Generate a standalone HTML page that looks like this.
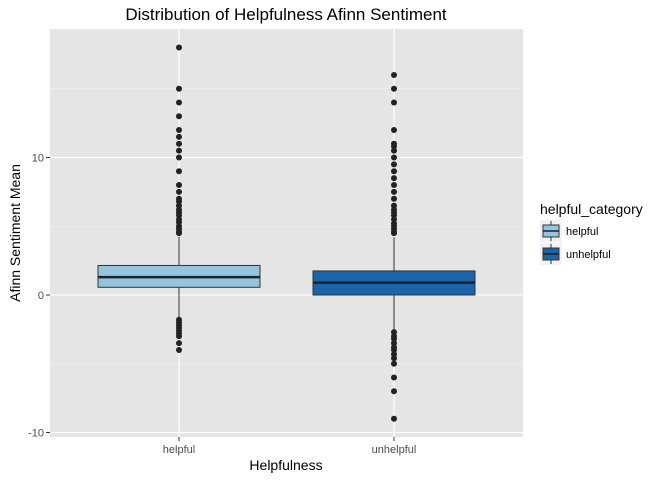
<!DOCTYPE html>
<html><head><meta charset="utf-8"><style>
body{margin:0;background:#fff;font-family:"Liberation Sans",sans-serif}
svg text{font-family:"Liberation Sans",sans-serif}
</style></head><body>
<svg id="c" width="672" height="480" xmlns="http://www.w3.org/2000/svg"></svg>
<script>
const categories=["helpful","unhelpful"];
const fills=["#95c4de","#1c64a9"];
const q1=[0.56,0.0];
const medians=[1.3,0.9];
const q3=[2.15,1.75];
const whiskerLow=[-1.7,-2.6];
const whiskerHigh=[4.25,4.2];
const outliersHelpful=[18,15,14,13,12,11.5,11,10.5,10,9,8,7.5,7,6.8,6.5,6.2,6,5.8,5.5,5.3,5,4.8,4.6,4.5,-1.8,-2,-2.2,-2.4,-2.6,-2.8,-3,-3.5,-4];
const outliersUnhelpful=[16,15,14,12,11,10.8,10.5,10,9.5,9,8.5,8,7.5,7,6.5,6.2,6,5.8,5.5,5.2,5,4.8,4.6,4.5,-2.7,-3,-3.2,-3.5,-3.8,-4,-4.3,-4.6,-5,-6,-7,-9];
const outliers=[outliersHelpful,outliersUnhelpful];
const yTicks=[-10,0,10];

const L=50,R=523,T=29,B=437;
const y=v=>295-v*13.75;
const x=i=>179+i*215;
const svg=document.getElementById('c');
const NS='http://www.w3.org/2000/svg';
function mk(tag,attrs,parent){const e=document.createElementNS(NS,tag);for(const k in attrs)e.setAttribute(k,attrs[k]);(parent||svg).appendChild(e);return e;}
function txt(s,attrs){const e=mk('text',attrs);e.textContent=s;return e;}

const bg=mk('rect',{x:L,y:T,width:R-L,height:B-T,fill:'#e5e5e5'});


[-5,5,15].forEach(v=>{mk('line',{x1:L,x2:R,y1:y(v),y2:y(v),stroke:'#f2f2f2','stroke-width':0.6});});
yTicks.forEach(v=>{
  mk('line',{x1:L,x2:R,y1:y(v),y2:y(v),stroke:'#fff','stroke-width':1.2});
  mk('line',{x1:L-4,x2:L,y1:y(v),y2:y(v),stroke:'#333','stroke-width':1});
  const t=txt(String(v),{x:L-6,y:y(v)+4,'text-anchor':'end','font-size':11,fill:'#4d4d4d'});
  
  
});
categories.forEach((c,i)=>{
  mk('line',{x1:x(i),x2:x(i),y1:T,y2:B,stroke:'#fff','stroke-width':1.2});
  mk('line',{x1:x(i),x2:x(i),y1:B,y2:B+4,stroke:'#333','stroke-width':1});
  const t=txt(c,{x:x(i),y:B+16,'text-anchor':'middle','font-size':11,fill:'#4d4d4d'});
  
  
});
categories.forEach((c,i)=>{
  const g=mk('g',{});
  
  
  const cx=x(i),hw=81;
  mk('line',{x1:cx,x2:cx,y1:y(whiskerHigh[i]),y2:y(q3[i]),stroke:'#333','stroke-width':1},g);
  mk('line',{x1:cx,x2:cx,y1:y(q1[i]),y2:y(whiskerLow[i]),stroke:'#333','stroke-width':1},g);
  mk('rect',{x:cx-hw,y:y(q3[i]),width:2*hw,height:y(q1[i])-y(q3[i]),fill:fills[i],stroke:'#333','stroke-width':1},g);
  mk('line',{x1:cx-hw,x2:cx+hw,y1:y(medians[i]),y2:y(medians[i]),stroke:'#222','stroke-width':2.5},g);
  outliers[i].forEach(v=>{
    const p=mk('circle',{cx:cx,cy:y(v),r:3,fill:'#222'},g);
    
    
  });
});
let t;
t=txt('Distribution of Helpfulness Afinn Sentiment',{x:286,y:20,'text-anchor':'middle','font-size':17,fill:'#000'});

t=txt('Helpfulness',{x:286,y:470,'text-anchor':'middle','font-size':14,fill:'#000'});

t=txt('Afinn Sentiment Mean',{x:0,y:0,'text-anchor':'middle','font-size':14,fill:'#000',transform:'translate(20,233) rotate(-90)'});

t=txt('helpful_category',{x:540,y:214,'font-size':14,fill:'#000'});

categories.forEach((c,i)=>{
  const g=mk('g',{});
  
  
  const ky=220+i*23;
  mk('rect',{x:540,y:ky,width:22,height:22,fill:'#f2f2f2'},g);
  mk('line',{x1:551,x2:551,y1:ky+1,y2:ky+21,stroke:'#333','stroke-width':1},g);
  mk('rect',{x:543,y:ky+5,width:16,height:12,fill:fills[i],stroke:'#333','stroke-width':1},g);
  mk('line',{x1:543,x2:559,y1:ky+11,y2:ky+11,stroke:'#222','stroke-width':1.5},g);
  const lt=txt(c,{x:566,y:ky+15,'font-size':11,fill:'#000'},g);
});
</script>
</body></html>
